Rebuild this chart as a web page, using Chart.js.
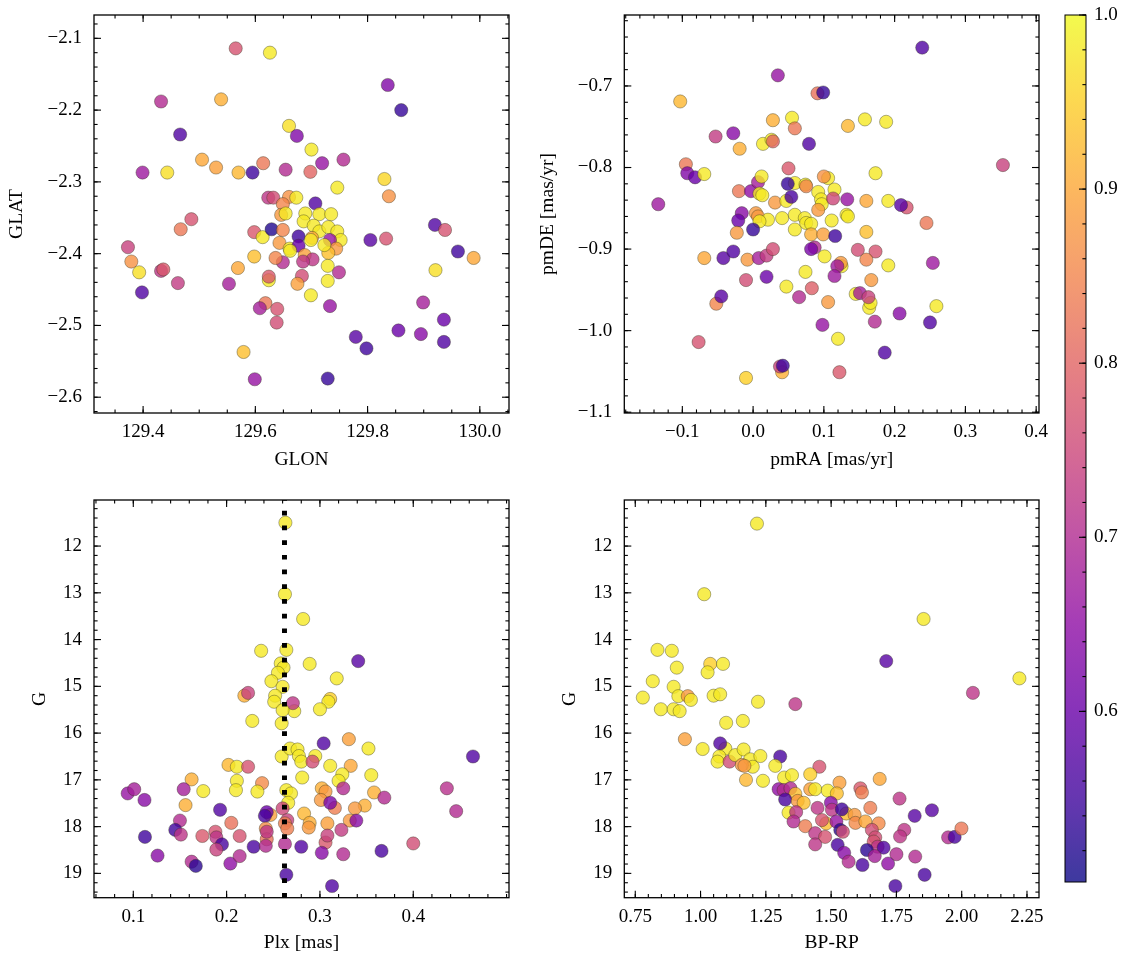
<!DOCTYPE html>
<html><head><meta charset="utf-8">
<script src="https://cdn.jsdelivr.net/npm/chart.js@4.4.0/dist/chart.umd.min.js"></script>
<style>
html,body{margin:0;padding:0;background:#fff;}
body{width:1133px;height:965px;position:relative;overflow:hidden;}
canvas{position:absolute;}
</style></head><body>
<canvas id="c1" width="520" height="475" style="left:0;top:0"></canvas>
<canvas id="c2" width="560" height="475" style="left:520px;top:0"></canvas>
<canvas id="c3" width="520" height="485" style="left:0;top:480px"></canvas>
<canvas id="c4" width="560" height="485" style="left:520px;top:480px"></canvas>
<canvas id="cb" width="78" height="965" style="left:1055px;top:0"></canvas>
<script>
// ---------------- data ----------------
// Panel 1: sky positions
const glon = [129.565,129.626,129.836,129.432,129.539,129.860,129.466,129.660,129.674,129.700,
129.505,129.530,129.399,129.443,129.570,129.595,129.614,129.654,129.698,129.719,
129.757,129.830,129.838,129.746,129.707,129.623,129.632,129.660,129.673,129.649,
129.646,129.654,129.689,129.714,129.735,129.486,129.467,129.373,129.379,129.393,
129.432,129.436,129.462,129.398,129.598,129.613,129.629,129.649,129.643,129.661,
129.677,129.677,129.686,129.704,129.714,129.730,129.746,129.752,129.733,129.701,
129.744,129.730,129.688,129.699,129.702,129.685,129.649,129.636,129.598,129.569,
129.553,129.729,129.749,129.683,129.675,129.624,129.624,129.729,129.699,129.618,
129.608,129.639,129.638,129.733,129.920,129.938,129.961,129.989,129.921,129.833,
129.805,129.899,129.936,129.855,129.895,129.936,129.779,129.798,129.579,129.599,
129.729,129.723,129.662];
const glat = [-2.114,-2.120,-2.165,-2.188,-2.185,-2.200,-2.234,-2.222,-2.236,-2.255,
-2.269,-2.280,-2.287,-2.287,-2.287,-2.287,-2.274,-2.283,-2.286,-2.274,
-2.269,-2.296,-2.320,-2.308,-2.330,-2.322,-2.322,-2.321,-2.322,-2.331,
-2.346,-2.344,-2.344,-2.345,-2.345,-2.352,-2.366,-2.391,-2.411,-2.426,
-2.424,-2.422,-2.441,-2.454,-2.370,-2.377,-2.366,-2.367,-2.385,-2.393,
-2.376,-2.389,-2.355,-2.361,-2.369,-2.363,-2.369,-2.381,-2.381,-2.378,
-2.393,-2.399,-2.402,-2.381,-2.408,-2.411,-2.412,-2.406,-2.404,-2.420,
-2.442,-2.417,-2.426,-2.431,-2.442,-2.437,-2.432,-2.438,-2.458,-2.469,
-2.476,-2.477,-2.496,-2.473,-2.360,-2.367,-2.397,-2.406,-2.423,-2.379,
-2.381,-2.468,-2.492,-2.507,-2.512,-2.523,-2.516,-2.532,-2.537,-2.575,
-2.574,-2.388,-2.396];
const probSky = [0.77,0.98,0.63,0.70,0.91,0.54,0.57,0.97,0.63,0.98,
0.90,0.89,0.67,0.97,0.92,0.55,0.83,0.70,0.80,0.66,
0.70,0.96,0.87,0.98,0.57,0.72,0.76,0.87,0.98,0.85,
0.88,0.98,0.98,0.98,0.98,0.77,0.83,0.74,0.87,0.97,
0.72,0.78,0.73,0.57,0.78,0.98,0.52,0.85,0.88,0.98,
0.55,0.60,0.98,0.98,0.98,0.98,0.98,0.98,0.66,0.90,
0.88,0.93,0.89,0.98,0.72,0.72,0.70,0.85,0.93,0.90,
0.68,0.98,0.70,0.76,0.89,0.98,0.78,0.98,0.98,0.83,
0.68,0.77,0.76,0.66,0.57,0.77,0.55,0.90,0.97,0.77,
0.58,0.68,0.60,0.60,0.64,0.57,0.58,0.55,0.93,0.66,
0.54,0.98,0.98];

// Panel 2: proper motions
const pmRA = [0.239,0.035,0.091,0.099,-0.103,0.028,0.055,0.059,0.158,0.188,
0.134,-0.028,-0.053,-0.019,0.014,0.026,0.028,0.079,-0.095,-0.093,
-0.082,-0.069,0.050,0.173,0.353,-0.134,-0.020,-0.003,0.007,0.012,
0.009,0.013,0.031,0.059,0.049,0.047,0.054,0.074,0.075,0.092,
0.106,0.100,0.115,0.096,0.097,0.113,0.133,0.160,0.191,0.217,
0.209,0.245,-0.016,-0.021,0.004,0.007,0.021,0.009,0.041,0.059,
0.059,0.073,0.075,0.082,0.092,0.111,0.132,0.134,0.160,0.000,
-0.023,0.082,0.099,0.116,-0.069,-0.042,-0.028,-0.008,0.008,0.019,
0.028,0.087,0.082,0.101,0.148,0.173,0.160,0.125,0.124,0.119,
0.191,0.254,-0.010,0.019,0.074,0.115,0.167,0.047,0.083,0.065,
-0.052,-0.045,0.145,0.151,0.164,0.166,0.163,0.106,0.259,0.098,
0.172,0.207,0.250,0.120,-0.077,0.186,0.041,0.038,0.042,-0.010,
0.122];
const pmDE = [-0.653,-0.687,-0.709,-0.708,-0.719,-0.742,-0.739,-0.752,-0.741,-0.744,
-0.749,-0.758,-0.762,-0.777,-0.771,-0.766,-0.768,-0.771,-0.796,-0.807,
-0.812,-0.808,-0.801,-0.807,-0.797,-0.845,-0.829,-0.829,-0.818,-0.811,
-0.832,-0.834,-0.843,-0.819,-0.820,-0.841,-0.836,-0.821,-0.823,-0.830,
-0.813,-0.811,-0.827,-0.839,-0.845,-0.838,-0.839,-0.841,-0.841,-0.849,
-0.846,-0.868,-0.856,-0.865,-0.856,-0.860,-0.864,-0.866,-0.862,-0.858,
-0.876,-0.862,-0.868,-0.869,-0.852,-0.865,-0.858,-0.860,-0.879,-0.876,
-0.880,-0.882,-0.882,-0.884,-0.911,-0.911,-0.903,-0.913,-0.911,-0.908,
-0.900,-0.898,-0.900,-0.909,-0.901,-0.903,-0.913,-0.921,-0.917,-0.921,
-0.920,-0.917,-0.938,-0.934,-0.928,-0.933,-0.938,-0.946,-0.948,-0.959,
-0.967,-0.958,-0.955,-0.954,-0.972,-0.966,-0.959,-0.965,-0.970,-0.993,
-0.989,-0.979,-0.990,-1.010,-1.014,-1.027,-1.051,-1.044,-1.043,-1.058,
-1.051];
const probPm = [0.57,0.66,0.82,0.54,0.92,0.91,0.98,0.83,0.98,0.98,
0.92,0.64,0.73,0.91,0.98,0.98,0.80,0.57,0.83,0.63,
0.60,0.98,0.78,0.98,0.74,0.67,0.83,0.65,0.68,0.98,
0.98,0.98,0.88,0.98,0.54,0.98,0.56,0.98,0.85,0.98,
0.98,0.87,0.98,0.98,0.98,0.75,0.66,0.90,0.98,0.77,
0.58,0.83,0.64,0.60,0.88,0.88,0.98,0.98,0.98,0.98,
0.98,0.98,0.98,0.98,0.88,0.98,0.98,0.98,0.93,0.54,
0.88,0.91,0.89,0.55,0.90,0.58,0.57,0.88,0.68,0.73,
0.76,0.70,0.62,0.98,0.76,0.77,0.85,0.98,0.88,0.67,
0.98,0.67,0.76,0.60,0.98,0.67,0.88,0.98,0.79,0.70,
0.85,0.58,0.98,0.68,0.98,0.98,0.74,0.88,0.98,0.66,
0.70,0.64,0.57,0.98,0.77,0.57,0.91,0.74,0.55,0.95,
0.78];

// Panel 3: parallax vs G
const plxMedian = 0.262;
const plx = [0.263,0.2625,0.282,0.237,0.264,0.289,0.341,0.258,0.261,0.255,
0.248,0.260,0.318,0.219,0.223,0.252,0.251,0.2725,0.271,0.260,
0.311,0.309,0.300,0.2275,0.259,0.304,0.331,0.352,0.464,0.259,
0.268,0.276,0.2775,0.280,0.295,0.292,0.202,0.211,0.223,0.311,
0.333,0.281,0.324,0.320,0.355,0.1625,0.211,0.210,0.238,0.175,
0.233,0.264,0.269,0.266,0.094,0.101,0.112,0.154,0.302,0.306,
0.301,0.325,0.358,0.369,0.436,0.316,0.311,0.348,0.3375,0.446,
0.156,0.193,0.247,0.243,0.260,0.283,0.150,0.241,0.265,0.332,
0.339,0.205,0.242,0.2625,0.265,0.289,0.288,0.308,0.145,0.151,
0.188,0.189,0.174,0.214,0.243,0.243,0.323,0.306,0.308,0.1125,
0.195,0.189,0.229,0.242,0.2625,0.280,0.302,0.325,0.366,0.400,
0.126,0.1625,0.167,0.204,0.214,0.264,0.313];
const gPlx = [11.50,13.03,13.56,14.24,14.22,14.52,14.46,14.51,14.60,14.71,
14.89,15.01,14.83,15.20,15.14,15.20,15.33,15.53,15.36,15.51,
15.27,15.33,15.49,15.74,15.79,16.22,16.13,16.33,16.50,16.50,
16.33,16.35,16.49,16.61,16.49,16.61,16.68,16.72,16.72,16.70,
16.70,16.95,16.88,17.02,16.90,16.99,17.02,17.22,17.07,17.24,
17.25,17.22,17.29,17.49,17.29,17.20,17.43,17.20,17.18,17.25,
17.43,17.18,17.27,17.38,17.18,17.60,17.49,17.55,17.61,17.67,
17.54,17.64,17.75,17.69,17.61,17.72,17.87,17.77,17.86,17.87,
17.87,17.92,18.04,17.93,18.04,17.92,18.02,17.93,18.07,18.17,
18.11,18.23,18.20,18.20,18.27,18.11,18.07,18.34,18.19,18.22,
18.38,18.49,18.43,18.41,18.37,18.43,18.56,18.59,18.52,18.36,
18.62,18.75,18.84,18.79,18.63,19.03,19.27];
const probPlx = [0.98,0.98,0.98,0.98,0.98,0.98,0.58,0.98,0.98,0.98,
0.98,0.98,0.98,0.91,0.74,0.98,0.98,0.98,0.72,0.98,
0.95,0.98,0.98,0.98,0.98,0.57,0.89,0.98,0.57,0.98,
0.98,0.98,0.98,0.98,0.98,0.76,0.92,0.98,0.77,0.98,
0.90,0.98,0.98,0.98,0.98,0.91,0.98,0.98,0.86,0.98,
0.98,0.98,0.98,0.98,0.66,0.68,0.64,0.68,0.91,0.88,
0.88,0.70,0.91,0.70,0.71,0.84,0.62,0.91,0.88,0.70,
0.91,0.57,0.89,0.60,0.75,0.92,0.70,0.56,0.74,0.88,
0.64,0.82,0.86,0.84,0.84,0.91,0.88,0.89,0.55,0.72,
0.77,0.72,0.78,0.77,0.82,0.72,0.73,0.78,0.74,0.55,
0.56,0.74,0.56,0.70,0.70,0.57,0.64,0.70,0.56,0.76,
0.64,0.70,0.53,0.65,0.70,0.56,0.57];

// Panel 4: colour-magnitude diagram
const bprp = [1.216,1.014,1.854,0.835,0.890,1.711,0.909,1.037,1.027,1.086,
0.817,2.221,0.897,0.779,0.915,0.951,0.963,1.050,1.075,2.043,
0.848,0.897,0.920,1.220,1.363,1.098,1.162,0.940,1.008,1.095,
1.075,1.072,1.065,1.111,1.133,1.165,1.190,1.200,1.158,1.168,
1.229,1.305,1.286,1.174,1.239,1.320,1.350,1.455,1.420,1.686,
1.532,1.299,1.318,1.344,1.420,1.439,1.487,1.522,1.612,1.618,
1.762,1.363,1.324,1.372,1.395,1.448,1.499,1.503,1.558,1.541,
1.650,1.820,1.886,1.337,1.366,1.356,1.401,1.481,1.465,1.520,
1.590,1.593,1.631,1.682,1.535,1.439,1.477,1.545,1.656,1.669,
1.780,1.764,1.948,1.973,1.999,1.439,1.525,1.550,1.663,1.678,
1.637,1.701,1.667,1.750,1.822,1.567,1.620,1.718,1.858,1.746];
const gCmd = [11.52,13.03,13.56,14.22,14.24,14.46,14.60,14.52,14.70,14.52,
14.89,14.83,15.01,15.24,15.21,15.21,15.29,15.20,15.17,15.14,
15.49,15.49,15.53,15.33,15.38,15.78,15.74,16.13,16.34,16.33,
16.22,16.50,16.61,16.61,16.47,16.35,16.56,16.72,16.68,16.70,
16.49,16.50,16.70,17.00,17.02,16.95,16.90,16.72,16.88,16.98,
17.06,17.20,17.22,17.18,17.20,17.20,17.23,17.29,17.18,17.27,
17.40,17.30,17.42,17.45,17.49,17.60,17.49,17.64,17.72,17.63,
17.60,17.77,17.65,17.70,17.69,17.89,17.99,17.93,17.86,17.89,
17.75,17.92,17.89,17.93,18.07,18.14,18.22,18.11,18.07,18.23,
18.07,18.21,18.23,18.22,18.04,18.38,18.39,18.56,18.32,18.43,
18.50,18.45,18.63,18.59,18.64,18.75,18.82,18.79,19.03,19.27];
const probCmd = [0.98,0.98,0.98,0.98,0.98,0.58,0.98,0.95,0.98,0.98,
0.98,0.98,0.98,0.98,0.98,0.88,0.98,0.98,0.98,0.72,
0.98,0.98,0.98,0.98,0.72,0.98,0.98,0.89,0.98,0.98,
0.57,0.98,0.98,0.76,0.98,0.98,0.98,0.98,0.88,0.88,
0.98,0.56,0.98,0.92,0.98,0.98,0.98,0.77,0.95,0.90,
0.89,0.65,0.70,0.70,0.89,0.98,0.98,0.93,0.78,0.84,
0.72,0.93,0.56,0.88,0.93,0.72,0.64,0.72,0.93,0.55,
0.84,0.58,0.58,0.98,0.72,0.70,0.84,0.93,0.77,0.66,
0.88,0.86,0.90,0.86,0.53,0.72,0.77,0.76,0.76,0.76,
0.72,0.72,0.70,0.56,0.83,0.72,0.56,0.64,0.77,0.72,
0.53,0.57,0.68,0.70,0.70,0.70,0.56,0.65,0.56,0.56];

// ticks
const skyLonTicks = [129.4,129.6,129.8,130.0];
const skyLonLabels = ['129.4','129.6','129.8','130.0'];
const skyLatTicks = [-2.1,-2.2,-2.3,-2.4,-2.5,-2.6];
const skyLatLabels = ['\u22122.1','\u22122.2','\u22122.3','\u22122.4','\u22122.5','\u22122.6'];
const pmRATicks = [-0.1,0.0,0.1,0.2,0.3,0.4];
const pmRALabels = ['\u22120.1','0.0','0.1','0.2','0.3','0.4'];
const pmDETicks = [-0.7,-0.8,-0.9,-1.0,-1.1];
const pmDELabels = ['\u22120.7','\u22120.8','\u22120.9','\u22121.0','\u22121.1'];
const plxTicks = [0.1,0.2,0.3,0.4];
const plxLabels = ['0.1','0.2','0.3','0.4'];
const gTicks = [12,13,14,15,16,17,18,19];
const gLabels = ['12','13','14','15','16','17','18','19'];
const bprpTicks = [0.75,1.00,1.25,1.50,1.75,2.00,2.25];
const bprpLabels = ['0.75','1.00','1.25','1.50','1.75','2.00','2.25'];
const cbTicks = [0.6,0.7,0.8,0.9,1.0];
const cbLabels = ['0.6','0.7','0.8','0.9','1.0'];
const probMin = 0.502, probMax = 1.0;

// ---------------- style ----------------
const FONT = {family: "'Liberation Serif','Times New Roman',serif", size: 19};
const TFONT = {family: "'Liberation Serif','Times New Roman',serif", size: 19.5};
const PLASMA = ['#0d0887','#41049d','#6a00a8','#8f0da4','#b12a90','#cc4778','#e16462','#f2844b','#fca636','#fcce25','#f0f921'];
const hex = h => [parseInt(h.slice(1,3),16), parseInt(h.slice(3,5),16), parseInt(h.slice(5,7),16)];
function plasma(t, a) {
  t = Math.max(0, Math.min(1, t));
  const n = PLASMA.length - 1, f = t * n, i = Math.min(n - 1, Math.floor(f)), u = f - i;
  const c0 = hex(PLASMA[i]), c1 = hex(PLASMA[i + 1]);
  const c = c0.map((v, k) => Math.round(v + (c1[k] - v) * u));
  return `rgba(${c[0]},${c[1]},${c[2]},${a})`;
}
const colorFor = p => plasma((p - probMin) / (probMax - probMin), 0.8);

function minorValues(lo, hi, step) {
  const out = [];
  const a = Math.min(lo, hi), b = Math.max(lo, hi);
  for (let k = Math.ceil(a / step - 1e-6); k * step <= b + 1e-9; k++) out.push(k * step);
  return out;
}

const frameTicks = {
  id: 'frameTicks',
  afterDraw(chart, args, o) {
    const ctx = chart.ctx, a = chart.chartArea;
    const seg = (x1, y1, x2, y2) => { ctx.beginPath(); ctx.moveTo(x1, y1); ctx.lineTo(x2, y2); ctx.stroke(); };
    ctx.save();
    ctx.strokeStyle = '#000';
    ctx.lineWidth = 1.1;
    const MAJ = 7, MIN = 3.6;
    if (o.xMajor) {
      const s = chart.scales.x;
      const draw = (v, L) => { const p = s.getPixelForValue(v); seg(p, a.bottom, p, a.bottom - L); seg(p, a.top, p, a.top + L); };
      o.xMajor.forEach(v => draw(v, MAJ));
      minorValues(s.min, s.max, o.xMinor).forEach(v => draw(v, MIN));
    }
    if (o.yMajor) {
      const s = chart.scales.y;
      const sides = o.ySides || ['left', 'right'];
      const draw = (v, L) => {
        const p = s.getPixelForValue(v);
        if (sides.includes('left')) seg(a.left, p, a.left + L, p);
        if (sides.includes('right')) seg(a.right, p, a.right - L, p);
      };
      o.yMajor.forEach(v => draw(v, MAJ));
      minorValues(s.min, s.max, o.yMinor).forEach(v => draw(v, MIN));
    }
    ctx.lineWidth = o.frameWidth || 1.3;
    ctx.strokeRect(a.left, a.top, a.right - a.left, a.bottom - a.top);
    ctx.restore();
  }
};

function makePanel(id, o) {
  const datasets = [{
    type: 'scatter',
    data: o.xv.map((x, i) => ({x, y: o.yv[i]})),
    backgroundColor: o.pv.map(colorFor),
    borderColor: 'rgba(50,50,30,0.55)',
    borderWidth: 0.7,
    pointRadius: 6.6,
    pointHoverRadius: 6.6,
    order: 2
  }];
  if (o.vline !== undefined) {
    datasets.push({
      type: 'line',
      data: [{x: o.vline, y: o.yMax}, {x: o.vline, y: o.yMin}],
      borderColor: '#000', borderWidth: 5, borderDash: [4.7, 10.0], borderCapStyle: 'butt',
      pointRadius: 0, fill: false, order: 1, tension: 0
    });
  }
  return new Chart(document.getElementById(id), {
    type: 'scatter',
    data: {datasets},
    options: {
      responsive: false, animation: false, devicePixelRatio: 1, events: [],
      layout: {padding: {left: 0, right: o.padR, top: o.padT, bottom: 0}},
      plugins: {legend: {display: false}, tooltip: {enabled: false},
        frameTicks: {xMajor: o.xTicks, yMajor: o.yTicks, xMinor: o.xMinor, yMinor: o.yMinor}},
      scales: {
        x: {
          type: 'linear', position: 'bottom', min: o.xMin, max: o.xMax,
          grid: {display: false, drawTicks: false}, border: {display: false},
          ticks: {autoSkip: false, maxRotation: 0, padding: 8, color: '#000', font: FONT,
            callback: (v, i) => o.xLabels[i]},
          afterBuildTicks: s => { s.ticks = o.xTicks.map(v => ({value: v})); },
          afterFit: s => { s.height = o.xH; s.paddingLeft = 0; s.paddingRight = 0; },
          title: {display: true, text: o.xTitle, color: '#000', font: TFONT, padding: {top: 0, bottom: o.xTitlePad}}
        },
        y: {
          type: 'linear', position: 'left', min: o.yMin, max: o.yMax, reverse: !!o.reverse,
          grid: {display: false, drawTicks: false}, border: {display: false},
          ticks: {autoSkip: false, padding: 12, color: '#000', font: FONT,
            callback: (v, i) => o.yLabels[i]},
          afterBuildTicks: s => { s.ticks = o.yTicks.map(v => ({value: v})); },
          afterFit: s => { s.width = o.yW; s.paddingTop = 0; s.paddingBottom = 0; },
          title: {display: true, text: o.yTitle, color: '#000', font: TFONT, padding: {top: o.yTitlePad, bottom: 0}}
        }
      }
    },
    plugins: [frameTicks]
  });
}

makePanel('c1', {xv: glon, yv: glat, pv: probSky, xMin: 129.3125, xMax: 130.052, yMin: -2.622, yMax: -2.0675,
  xTicks: skyLonTicks, xLabels: skyLonLabels, yTicks: skyLatTicks, yLabels: skyLatLabels, xMinor: 0.05, yMinor: 0.02,
  xTitle: 'GLON', yTitle: 'GLAT', padR: 11, padT: 15, xH: 62, yW: 94, xTitlePad: 3.3, yTitlePad: 5.3});
makePanel('c2', {xv: pmRA, yv: pmDE, pv: probPm, xMin: -0.182, xMax: 0.404, yMin: -1.101, yMax: -0.613,
  xTicks: pmRATicks, xLabels: pmRALabels, yTicks: pmDETicks, yLabels: pmDELabels, xMinor: 0.02, yMinor: 0.02,
  xTitle: 'pmRA [mas/yr]', yTitle: 'pmDE [mas/yr]', padR: 41, padT: 15, xH: 62, yW: 104.3, xTitlePad: 3.3, yTitlePad: 16.3});
makePanel('c3', {xv: plx, yv: gPlx, pv: probPlx, xMin: 0.0579, xMax: 0.5026, yMin: 11.015, yMax: 19.52, reverse: true,
  vline: plxMedian,
  xTicks: plxTicks, xLabels: plxLabels, yTicks: gTicks, yLabels: gLabels, xMinor: 0.02, yMinor: 0.2,
  xTitle: 'Plx [mas]', yTitle: 'G', padR: 11, padT: 20, xH: 67.3, yW: 94, xTitlePad: 10.3, yTitlePad: 28.3});
makePanel('c4', {xv: bprp, yv: gCmd, pv: probCmd, xMin: 0.708, xMax: 2.296, yMin: 11.015, yMax: 19.52, reverse: true,
  xTicks: bprpTicks, xLabels: bprpLabels, yTicks: gTicks, yLabels: gLabels, xMinor: 0.05, yMinor: 0.2,
  xTitle: 'BP-RP', yTitle: 'G', padR: 41, padT: 20, xH: 67.3, yW: 104.3, xTitlePad: 10.3, yTitlePad: 38.3});

// colorbar
const colorbarFill = {
  id: 'colorbarFill',
  beforeDatasetsDraw(chart) {
    const ctx = chart.ctx, a = chart.chartArea, s = chart.scales.y;
    const g = ctx.createLinearGradient(0, a.bottom, 0, a.top);
    for (let k = 0; k <= 50; k++) {
      const t = k / 50;
      const v = s.getValueForPixel(a.bottom + (a.top - a.bottom) * t);
      g.addColorStop(t, colorFor(v));
    }
    ctx.save();
    ctx.fillStyle = g;
    ctx.fillRect(a.left, a.top, a.right - a.left, a.bottom - a.top);
    ctx.restore();
  }
};
new Chart(document.getElementById('cb'), {
  type: 'scatter',
  data: {datasets: []},
  options: {
    responsive: false, animation: false, devicePixelRatio: 1, events: [],
    layout: {padding: {left: 10, right: 0, top: 15, bottom: 83}},
    plugins: {legend: {display: false}, tooltip: {enabled: false},
      frameTicks: {yMajor: cbTicks, yMinor: 0.02, ySides: ['right'], frameWidth: 1.0}},
    scales: {
      x: {display: false, min: 0, max: 1},
      y: {
        type: 'linear', position: 'right', min: probMin, max: probMax,
        grid: {display: false, drawTicks: false}, border: {display: false},
        ticks: {autoSkip: false, padding: 8, color: '#000', font: FONT, callback: (v, i) => cbLabels[i]},
        afterBuildTicks: s => { s.ticks = cbTicks.map(v => ({value: v})); },
        afterFit: s => { s.width = 47; s.paddingTop = 0; s.paddingBottom = 0; }
      }
    }
  },
  plugins: [colorbarFill, frameTicks]
});
</script>
</body></html>
